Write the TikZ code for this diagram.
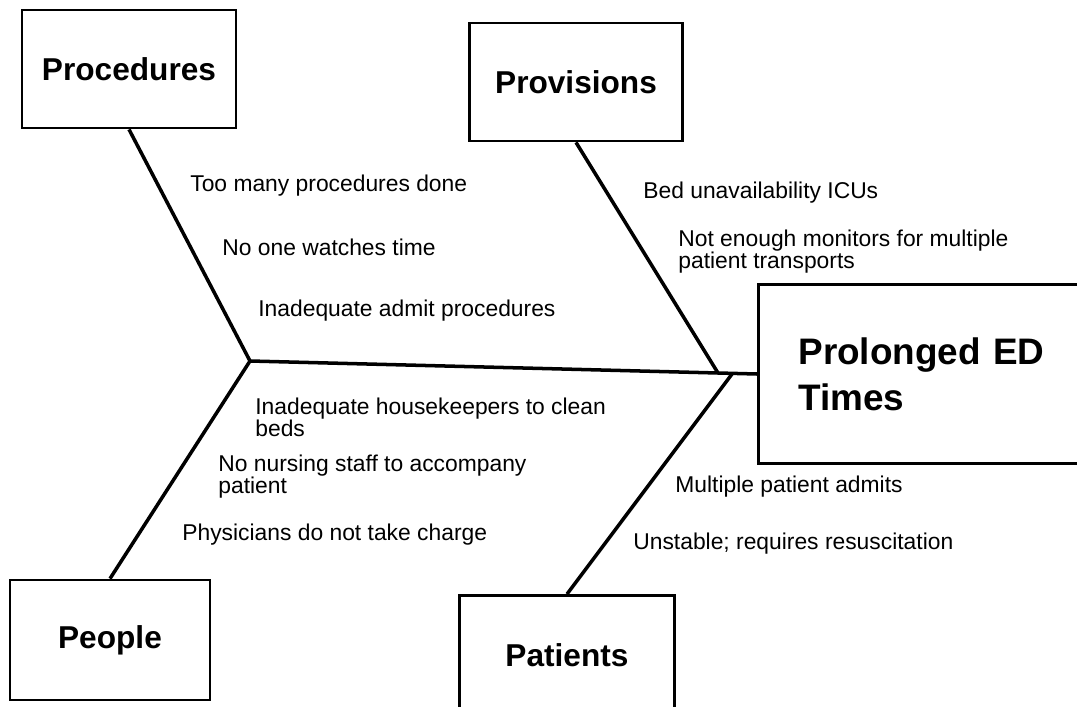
\documentclass[tikz,border=0pt]{standalone}
\usepackage{fontspec}
\setmainfont{Liberation Sans}
\usetikzlibrary{positioning}

\begin{document}
\begin{tikzpicture}[x=0.02cm,y=-0.02cm,
	catbox/.style={draw,line width=1.6pt,minimum width=4.28cm,minimum height=2.36cm,font=\fontsize{18}{20}\selectfont\bfseries},
	cause/.style={anchor=west,align=left,inner sep=0pt,font=\fontsize{13}{12.5}\selectfont},
	bone/.style={line width=2pt}]
\useasboundingbox (0,0) rectangle (1077,706);
\node[catbox] (proc) at (129,69) {Procedures};
\node[catbox,minimum width=4.26cm] (prov) at (576,82) {Provisions};
\node[catbox,minimum width=4.0cm,minimum height=2.4cm] (ppl) at (110,640) {People};
\node[catbox,minimum width=4.3cm,minimum height=2.38cm] (pat) at (567,655) {Patients};
\node[draw,line width=1.6pt,anchor=west,minimum width=6.9cm,minimum height=3.58cm,
	inner xsep=0.8cm,text width=5.3cm,align=left,
	font=\fontsize{21}{26}\selectfont\bfseries] (ed) at (757,374) {Prolonged ED\\Times};
\coordinate (tail) at (250,361);
\coordinate (j1) at (718,373);
\coordinate (j2) at (732,374);
\draw[bone] (tail) -- (ed.west);
\draw[bone] (proc.south) -- (tail) -- (ppl.north);
\draw[bone] (prov.south) -- (j1);
\draw[bone] (j2) -- (pat.north);
\node[cause] (c1) at (190,186) {Too many procedures done};
\node[cause] (c2) at (222,247) {No one watches time};
\node[cause] (c3) at (258,311) {Inadequate admit procedures};
\node[cause] (c4) at (643,193) {Bed unavailability ICUs};
\node[cause] (c5) at (678,252) {Not enough monitors for multiple\\patient transports};
\node[cause] (c6) at (255,417) {Inadequate housekeepers to clean\\beds};
\node[cause] (c7) at (218,477) {No nursing staff to accompany\\patient};
\node[cause] (c8) at (182,535) {Physicians do not take charge};
\node[cause] (c9) at (675,487) {Multiple patient admits};
\node[cause] (c10) at (633,544) {Unstable; requires resuscitation};
\end{tikzpicture}
\end{document}
